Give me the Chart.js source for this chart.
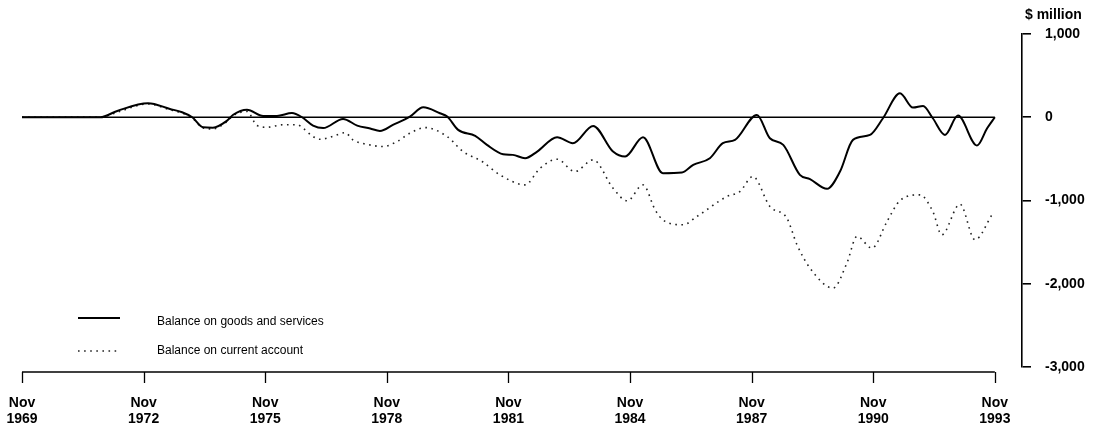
<!DOCTYPE html>
<html>
<head>
<meta charset="utf-8">
<script src="https://cdn.jsdelivr.net/npm/chart.js"></script>
<style>
    body { margin: 0; background: #fff; }
    #wrap { width: 1094px; height: 432px; }
</style>
</head>
<body>
<div id="wrap"><canvas id="balanceChart" width="1094" height="432"></canvas></div>
<script>
// Balance on goods and services ($ million), dates as decimal years
const goodsYears = [1969.83, 1971.76, 1972.18, 1972.94, 1973.48, 1973.78, 1974.03, 1974.30, 1974.54, 1974.89,
    1975.04, 1975.38, 1975.78, 1976.12, 1976.49, 1976.74, 1977.01, 1977.26, 1977.75, 1978.10,
    1978.42, 1978.66, 1978.98, 1979.40, 1979.73, 1980.14, 1980.32, 1980.59, 1981.01, 1981.30,
    1981.70, 1981.94, 1982.24, 1982.54, 1983.03, 1983.42, 1983.92, 1984.41, 1984.71, 1985.15,
    1985.64, 1986.11, 1986.39, 1986.80, 1987.12, 1987.42, 1987.96, 1988.28, 1988.61, 1989.02,
    1989.27, 1989.69, 1990.01, 1990.33, 1990.75, 1991.07, 1991.49, 1991.81, 1992.06, 1992.30,
    1992.60, 1992.92, 1993.39, 1993.64, 1993.83];
const goodsValues = [0, 0, 76, 168, 100, 60, 0, -120, -125, -40,
    30, 90, 15, 15, 50, 0, -100, -130, -20, -100,
    -135, -165, -92, 8, 120, 48, 8, -152, -224, -332,
    -444, -452, -492, -412, -240, -312, -104, -412, -472, -240,
    -672, -664, -572, -492, -312, -272, 28, -252, -332, -692,
    -744, -860, -652, -272, -212, -12, 288, 116, 136, -12,
    -212, 20, -340, -132, 0];

// Balance on current account ($ million)
const currentYears = [1969.83, 1971.76, 1972.18, 1972.94, 1973.48, 1973.78, 1974.03, 1974.30, 1974.54, 1974.89,
    1975.04, 1975.38, 1975.63, 1975.88, 1976.27, 1976.62, 1976.76, 1976.99, 1977.18, 1977.50,
    1977.80, 1978.00, 1978.34, 1978.74, 1979.08, 1979.40, 1979.77, 1980.32, 1980.71, 1981.18,
    1981.62, 1982.24, 1982.61, 1983.03, 1983.47, 1983.92, 1984.41, 1984.76, 1985.15, 1985.45,
    1985.64, 1986.14, 1986.48, 1987.22, 1987.54, 1987.86, 1988.28, 1988.70, 1988.95, 1989.27,
    1989.84, 1990.18, 1990.43, 1990.80, 1991.17, 1991.49, 1991.98, 1992.30, 1992.52, 1992.97,
    1993.34, 1993.76];
const currentValues = [0, 0, 60, 160, 90, 50, -10, -130, -140, -50,
    20, 70, -100, -120, -90, -90, -130, -225, -265, -230,
    -185, -275, -325, -352, -292, -192, -124, -232, -412, -532,
    -692, -812, -612, -504, -652, -512, -852, -1004, -812, -1112,
    -1232, -1292, -1192, -952, -892, -712, -1072, -1212, -1532, -1812,
    -2052, -1752, -1432, -1572, -1252, -1000, -932, -1132, -1412, -1044,
    -1472, -1172];

// Axis ticks (November of every third year)
const tickYears = [1969.83, 1972.83, 1975.83, 1978.83, 1981.83, 1984.83, 1987.83, 1990.83, 1993.83];
const tickLabels = [['Nov', '1969'], ['Nov', '1972'], ['Nov', '1975'], ['Nov', '1978'], ['Nov', '1981'],
    ['Nov', '1984'], ['Nov', '1987'], ['Nov', '1990'], ['Nov', '1993']];
const seriesNames = ['Balance on goods and services', 'Balance on current account'];
const unitLabel = '$ million';

const FONT = '"Liberation Sans", Arial, sans-serif';

function toPoints(xs, ys) {
    return xs.map(function (x, i) { return { x: x, y: ys[i] }; });
}

// Zero line, x axis line with its ticks, legend and unit label
const extras = {
    id: 'extras',
    afterDatasetsDraw: function (chart) {
        const ctx = chart.ctx;
        const xs = chart.scales.x;
        const ys = chart.scales.y;
        const x0 = xs.getPixelForValue(tickYears[0]);
        const x1 = xs.getPixelForValue(tickYears[tickYears.length - 1]);
        const axisY = chart.chartArea.bottom + 5;
        ctx.save();
        ctx.strokeStyle = '#000';
        ctx.lineWidth = 1.6;
        ctx.beginPath();
        ctx.moveTo(x0, ys.getPixelForValue(0));
        ctx.lineTo(x1, ys.getPixelForValue(0));
        ctx.stroke();
        ctx.beginPath();
        ctx.moveTo(x0, axisY);
        ctx.lineTo(x1, axisY);
        ctx.stroke();
        ctx.lineWidth = 1.3;
        tickYears.forEach(function (v) {
            const px = Math.round(xs.getPixelForValue(v)) + 0.5;
            ctx.beginPath();
            ctx.moveTo(px, axisY);
            ctx.lineTo(px, axisY + 11);
            ctx.stroke();
        });

        // legend
        ctx.font = '12px ' + FONT;
        ctx.fillStyle = '#000';
        ctx.textBaseline = 'middle';
        const rows = [{ line: 318, text: 322 }, { line: 351, text: 351 }];
        chart.data.datasets.forEach(function (ds, i) {
            ctx.beginPath();
            ctx.lineWidth = ds.borderWidth;
            ctx.strokeStyle = ds.borderColor;
            ctx.setLineDash(ds.borderDash || []);
            ctx.moveTo(78, rows[i].line);
            ctx.lineTo(120, rows[i].line);
            ctx.stroke();
            ctx.setLineDash([]);
            ctx.fillText(ds.label, 157, rows[i].text);
        });

        ctx.font = 'bold 14px ' + FONT;
        ctx.fillText(unitLabel, 1025, 15);
        ctx.restore();
    }
};

const ctx = document.getElementById('balanceChart').getContext('2d');
const balanceChart = new Chart(ctx, {
    type: 'line',
    data: {
        datasets: [{
            label: seriesNames[0],
            data: toPoints(goodsYears, goodsValues),
            borderColor: '#000',
            borderWidth: 2,
            pointRadius: 0,
            cubicInterpolationMode: 'monotone'
        }, {
            label: seriesNames[1],
            data: toPoints(currentYears, currentValues),
            borderColor: '#222',
            borderWidth: 1.6,
            borderDash: [1.6, 4.5],
            pointRadius: 0,
            cubicInterpolationMode: 'monotone'
        }]
    },
    options: {
        responsive: false,
        animation: false,
        layout: { padding: { top: 34, left: 22, right: 0, bottom: 0 } },
        plugins: {
            legend: { display: false },
            tooltip: { enabled: false }
        },
        scales: {
            x: {
                type: 'linear',
                min: 1969.83,
                max: 1994.5,
                afterBuildTicks: function (scale) {
                    scale.ticks = tickYears.map(function (v) { return { value: v }; });
                },
                afterFit: function (scale) { scale.height = 65; },
                border: { display: false },
                // tick marks are drawn by the plugin, these only make room for the labels
                grid: { drawOnChartArea: false, tickLength: 25, color: 'rgba(0,0,0,0)' },
                ticks: {
                    autoSkip: false,
                    maxRotation: 0,
                    padding: 3,
                    color: '#000',
                    font: { family: FONT, size: 14, weight: 'bold', lineHeight: 1.15 },
                    callback: function (value, index) { return tickLabels[index]; }
                }
            },
            y: {
                position: 'right',
                min: -3000,
                max: 1000,
                afterFit: function (scale) { scale.width = 72; },
                border: { display: true, color: '#000', width: 1.6 },
                grid: { drawOnChartArea: false, tickLength: 9, color: '#000', lineWidth: 1.6 },
                ticks: {
                    stepSize: 1000,
                    padding: 14,
                    color: '#000',
                    font: { family: FONT, size: 14, weight: 'bold' },
                    callback: function (value) { return value.toLocaleString('en-US'); }
                }
            }
        }
    },
    plugins: [extras]
});
</script>
</body>
</html>
